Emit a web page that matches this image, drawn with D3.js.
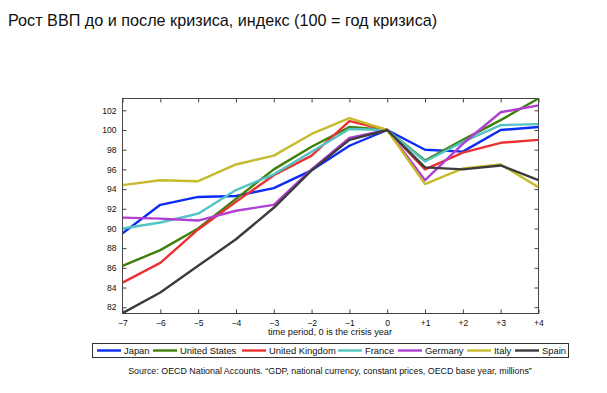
<!DOCTYPE html>
<html>
<head>
<meta charset="utf-8">
<script src="https://cdn.jsdelivr.net/npm/d3@7"></script>
<style>
  body { margin: 0; background: #fff; }
  svg { display: block; font-family: "Liberation Sans", Arial, sans-serif; }
</style>
</head>
<body>
<svg id="chart" width="607" height="393"></svg>
<script>
// periods relative to the crisis year
const periods = [-7, -6, -5, -4, -3, -2, -1, 0, 1, 2, 3, 4];
const countries = ["Japan", "United States", "United Kingdom", "France", "Germany", "Italy", "Spain"];
const colors = ["#0b2cf5", "#3f7f0c", "#ea3232", "#52c4c4", "#b13fd3", "#c6bb2c", "#3c3c3c"];

const japan = [89.5, 92.4, 93.2, 93.3, 94.1, 95.9, 98.4, 100, 98.0, 97.8, 100.0, 100.3];
const unitedStates = [86.2, 87.8, 90.0, 93.0, 96.0, 98.3, 100.3, 100, 96.9, 99.0, 101.0, 103.2];
const unitedKingdom = [84.5, 86.5, 89.9, 92.7, 95.4, 97.4, 100.9, 100, 96.0, 97.7, 98.7, 99.0];
const france = [90.0, 90.6, 91.5, 93.9, 95.5, 97.8, 100.1, 100, 96.8, 98.8, 100.5, 100.6];
const germany = [91.1, 91.0, 90.8, 91.8, 92.4, 96.0, 99.2, 100, 94.9, 98.6, 101.8, 102.5];
const italy = [94.4, 94.9, 94.8, 96.5, 97.4, 99.6, 101.2, 100, 94.5, 96.1, 96.5, 94.2];
const spain = [81.4, 83.5, 86.2, 88.9, 92.1, 95.9, 99.0, 100, 96.2, 96.0, 96.4, 94.9];

const series = [japan, unitedStates, unitedKingdom, france, germany, italy, spain];
const yTicks = [82, 84, 86, 88, 90, 92, 94, 96, 98, 100, 102];

const titleText = "Рост ВВП до и после кризиса, индекс (100 = год кризиса)";
const xLabel = "time period, 0 is the crisis year";
const sourceText = "Source: OECD National Accounts. \u201cGDP, national currency, constant prices, OECD base year, millions\u201d";

const svg = d3.select("#chart");

const plot = { left: 122.5, right: 538.5, top: 98.5, bottom: 313.5 };

const x = d3.scaleLinear().domain([-7, 4]).range([plot.left, plot.right]);
const y = d3.scaleLinear().domain([81.36, 103.2]).range([plot.bottom, plot.top]);

const fmtX = d => d > 0 ? "+" + d : (d < 0 ? "\u2212" + Math.abs(d) : "0");

// title
svg.append("text")
    .attr("x", 8)
    .attr("y", 26)
    .attr("font-size", 16.2)
    .attr("fill", "#111")
    .text(titleText);

// axes with inner ticks on all sides
const axisStyle = g => {
    g.select(".domain").remove();
    g.selectAll("line").attr("stroke", "#444");
    g.selectAll("text").attr("font-size", 8.6).attr("fill", "#111");
};

svg.append("g")
    .attr("transform", `translate(0,${plot.bottom})`)
    .call(d3.axisBottom(x).tickValues(periods).tickFormat(fmtX).tickSizeInner(-4).tickSizeOuter(0).tickPadding(6))
    .call(axisStyle);

svg.append("g")
    .attr("transform", `translate(0,${plot.top})`)
    .call(d3.axisTop(x).tickValues(periods).tickFormat("").tickSizeInner(-4).tickSizeOuter(0))
    .call(axisStyle);

svg.append("g")
    .attr("transform", `translate(${plot.left},0)`)
    .call(d3.axisLeft(y).tickValues(yTicks).tickSizeInner(-4).tickSizeOuter(0).tickPadding(6))
    .call(axisStyle);

svg.append("g")
    .attr("transform", `translate(${plot.right},0)`)
    .call(d3.axisRight(y).tickValues(yTicks).tickFormat("").tickSizeInner(-4).tickSizeOuter(0))
    .call(axisStyle);

// plot box
svg.append("rect")
    .attr("x", plot.left)
    .attr("y", plot.top)
    .attr("width", plot.right - plot.left)
    .attr("height", plot.bottom - plot.top)
    .attr("fill", "none")
    .attr("stroke", "#444")
    .attr("stroke-width", 1);

// lines
svg.append("defs").append("clipPath").attr("id", "clip")
    .append("rect")
    .attr("x", plot.left)
    .attr("y", plot.top - 1)
    .attr("width", plot.right - plot.left)
    .attr("height", plot.bottom - plot.top + 2);

const line = d3.line()
    .x((d, i) => x(periods[i]))
    .y(d => y(d));

svg.append("g")
    .attr("clip-path", "url(#clip)")
    .selectAll("path")
    .data(series)
    .enter()
    .append("path")
    .attr("d", d => line(d))
    .attr("fill", "none")
    .attr("stroke", (d, i) => colors[i])
    .attr("stroke-width", 2.4)
    .attr("stroke-linejoin", "round");

// x axis label
svg.append("text")
    .attr("x", 330)
    .attr("y", 335)
    .attr("text-anchor", "middle")
    .attr("font-size", 9.2)
    .attr("fill", "#111")
    .text(xLabel);

// legend
const legend = svg.append("g");
legend.append("rect")
    .attr("x", 92.5)
    .attr("y", 343.5)
    .attr("width", 476)
    .attr("height", 14)
    .attr("fill", "#fff")
    .attr("stroke", "#333");

const legendX = [97, 153, 242, 338, 398, 467, 515];
countries.forEach((name, i) => {
    legend.append("line")
        .attr("x1", legendX[i])
        .attr("x2", legendX[i] + 24)
        .attr("y1", 350.5)
        .attr("y2", 350.5)
        .attr("stroke", colors[i])
        .attr("stroke-width", 2.4);
    legend.append("text")
        .attr("x", legendX[i] + 27)
        .attr("y", 354)
        .attr("font-size", 9.4)
        .attr("fill", "#111")
        .text(name);
});

// source
svg.append("text")
    .attr("x", 330)
    .attr("y", 374)
    .attr("text-anchor", "middle")
    .attr("font-size", 8.9)
    .attr("fill", "#111")
    .text(sourceText);
</script>
</body>
</html>
